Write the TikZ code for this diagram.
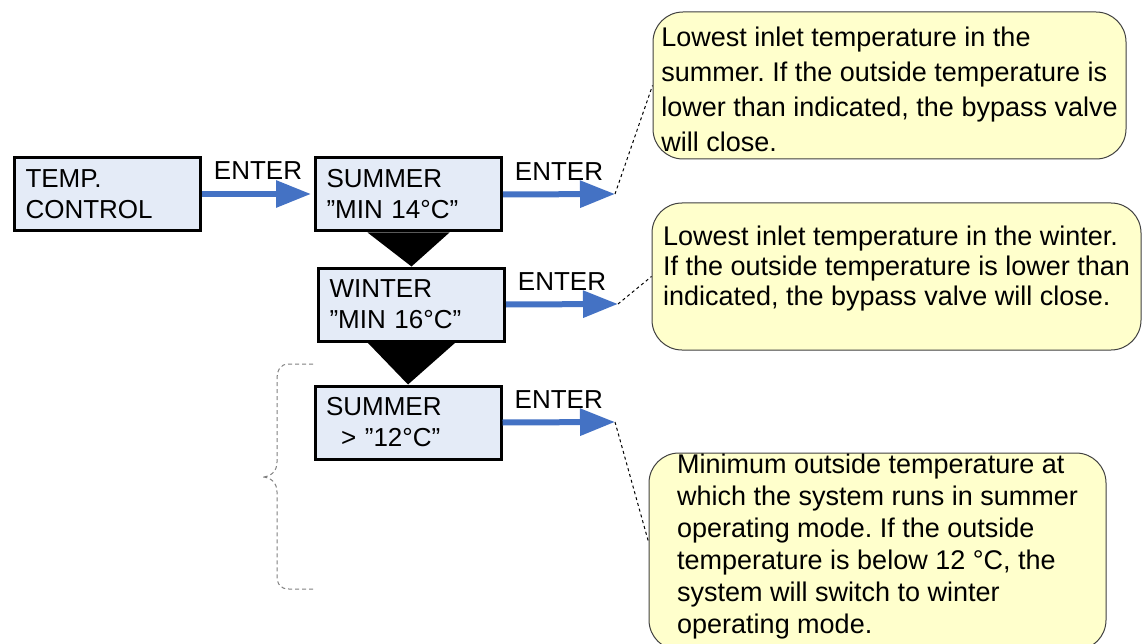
\documentclass[tikz,border=0pt]{standalone}
\usepackage{fontspec}
\setmainfont{Liberation Sans}
\usetikzlibrary{arrows.meta, positioning, calc}
\frenchspacing

\definecolor{menublue}{HTML}{E4EBF7}
\definecolor{flowblue}{HTML}{4472C4}
\definecolor{noteyellow}{HTML}{FFFFCC}
\definecolor{notegray}{HTML}{404040}

\begin{document}
\begin{tikzpicture}[x=1pt, y=-1pt,
    menu/.style={draw=black, line width=3pt, fill=menublue, minimum width=186pt, minimum height=73pt,
      inner xsep=11pt, text width=164pt, align=left, font=\fontsize{26}{31}\selectfont},
    flow/.style={draw=flowblue, line width=6pt, -{Triangle[length=35pt, width=26pt]}},
    enter/.style={above=11pt, inner sep=0pt, font=\fontsize{26}{31}\selectfont},
    note/.style={draw=notegray, line width=1pt, fill=noteyellow, rounded corners=30pt,
      inner sep=0pt, align=left, text depth=0pt},
    lead/.style={black, dashed, line width=1pt},
    brace/.style={gray, line width=1pt, dash pattern=on 4pt off 3pt},
  ]
  \useasboundingbox (0,0) rectangle (1142,644);
  \clip (0,0) rectangle (1142,644);

  % menu boxes
  \node[menu] (temp) at (107.5,194) {TEMP.\\CONTROL};
  \node[menu] (sumA) at (408.5,194.5) {SUMMER\\”MIN 14°C”};
  \node[menu] (winter) at (411.5,304.5) {WINTER\\”MIN 16°C”};
  \node[menu] (sumB) at (408,422.5) {SUMMER\\\hspace*{15pt}> ”12°C”};

  % black steps between the boxes
  \fill ($(sumA.south)+(-41,0)$) -- ($(sumA.south)+(41,0)$) -- (winter.north) -- cycle;
  \fill ($(winter.south)+(-44,0)$) -- ($(winter.south)+(44,0)$) -- (sumB.north) -- cycle;

  % ENTER arrows
  \coordinate (tipB) at (615,194);
  \coordinate (tipC) at (618,304);
  \coordinate (tipD) at (615,422);
  \draw[flow, shorten >=3pt] (temp.east) -- node[enter] (enterA) {ENTER} (temp.east -| sumA.west);
  \draw[flow] (sumA.east) -- node[enter] (enterB) {ENTER} (tipB);
  \draw[flow] (winter.east) -- node[enter] (enterC) {ENTER} (tipC);
  \draw[flow] (sumB.east) -- node[enter] (enterD) {ENTER} (tipD);

  % notes
  \node[note, minimum width=473pt, minimum height=147pt, text height=133pt,
    font=\fontsize{27}{35}\selectfont] (noteA) at (889.5,85.5)
    {Lowest inlet temperature in the\\summer. If the outside temperature is\\lower than indicated, the bypass valve\\will close.};
  \node[note, minimum width=489pt, minimum height=147pt, text height=57pt,
    font=\fontsize{27}{30}\selectfont] (noteB) at (896.5,276.5)
    {Lowest inlet temperature in the winter.\\If the outside temperature is lower than\\indicated, the bypass valve will close.};
  \node[note, minimum width=457pt, minimum height=197pt, text height=163pt,
    font=\fontsize{27}{32}\selectfont] (noteC) at (877.5,551.5)
    {Minimum outside temperature at\\which the system runs in summer\\operating mode. If the outside\\temperature is below 12 °C, the\\system will switch to winter\\operating mode.};

  \draw[lead] (tipB) -- (noteA.west);
  \draw[lead] (tipC) -- (noteB.west);
  \draw[lead] (tipD) -- ([yshift=9.5pt]noteC.west);

  % dashed brace
  \draw[brace] (313,364) -- (289,364) .. controls (280,364) and (277,370) .. (277,380)
    -- (277,462) .. controls (277,472) and (270,477) .. (262,477)
    .. controls (270,477) and (277,482) .. (277,492)
    -- (277,575) .. controls (277,584) and (280,589) .. (289,589) -- (315,589);
\end{tikzpicture}
\end{document}
